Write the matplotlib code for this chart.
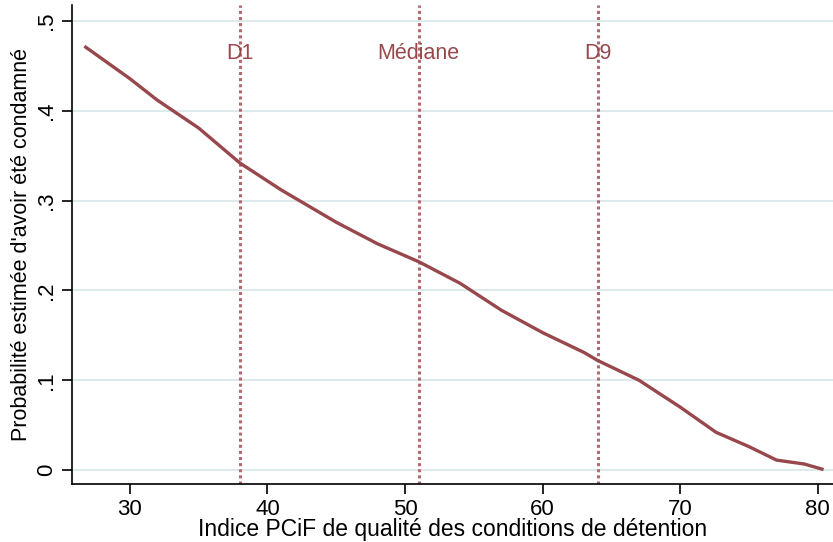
import matplotlib.pyplot as plt
import numpy as np

plt.rcParams["font.family"] = ["Liberation Sans", "DejaVu Sans"]

# courbe estimée
indice = [26.8, 30, 32, 35, 38, 41, 45, 48, 51, 54, 57, 60, 63, 64, 67, 70, 72.6, 75, 77, 79, 80.3]
proba = [0.471, 0.436, 0.412, 0.381, 0.342, 0.312, 0.276, 0.252, 0.232, 0.208, 0.178,
         0.153, 0.131, 0.122, 0.100, 0.070, 0.042, 0.026, 0.011, 0.0067, 0.001]

# déciles
deciles = [38, 51, 64]
decile_labels = ["D1", "Médiane", "D9"]

xticks = [30, 40, 50, 60, 70, 80]
yticks = [0, 0.1, 0.2, 0.3, 0.4, 0.5]
ytick_labels = ["0", ".1", ".2", ".3", ".4", ".5"]

line_col = "#98484c"
ref_col = "#b06a70"

fig = plt.figure(figsize=(8.33, 5.42), dpi=100)
ax = fig.add_axes([72 / 833, 58 / 542, 761 / 833, 479 / 542])

for y in yticks:
    ax.axhline(y, color="#d6e6e8", lw=1.2, zorder=0)

for x, lab in zip(deciles, decile_labels):
    ax.axvline(x, color=ref_col, lw=2.2, ls=(0, (1, 1)), zorder=1)
    ax.text(x, 0.464, lab, color=line_col, fontsize=15.5, ha="center", va="center")

ax.plot(indice, proba, color=line_col, lw=2.4, zorder=3)

ax.set_xlim(25.8, 81.1)
ax.set_ylim(-0.0156, 0.518)
ax.set_xticks(xticks)
ax.set_yticks(yticks)
ax.set_yticklabels(ytick_labels, rotation=90, va="center")
ax.tick_params(labelsize=16, length=7, width=1.2)
ax.spines["top"].set_visible(False)
ax.spines["right"].set_visible(False)
for s in ["left", "bottom"]:
    ax.spines[s].set_linewidth(1.2)

ax.set_xlabel("Indice PCiF de qualité des conditions de détention", fontsize=16.5, labelpad=-1)
ax.set_ylabel("Probabilité estimée d'avoir été condamné", fontsize=15.5, labelpad=3)

fig.savefig("out.png", dpi=100)
